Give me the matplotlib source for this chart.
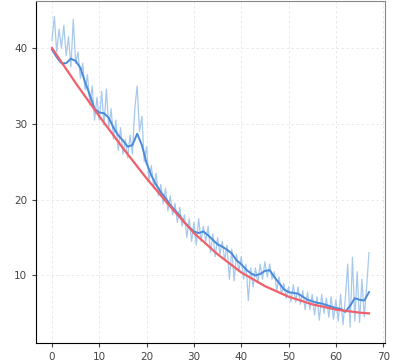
import numpy as np
import matplotlib.pyplot as plt

# datos crudos (paso 0.5)
x_raw = np.arange(0, 67.01, 0.5)
y_raw = [41.0, 44.2, 39.5, 42.5, 40.0, 43.0, 39.0, 41.5, 37.5, 43.8,
         38.0, 39.5, 36.0, 38.0, 34.5, 36.5, 32.5, 35.0, 30.5, 33.5,
         30.5, 34.3, 29.8, 34.6, 29.5, 32.0, 28.0, 30.5, 26.5, 29.5,
         26.0, 28.0, 25.5, 28.5, 26.0, 32.0, 35.0, 29.0, 31.0, 25.0,
         27.0, 22.5, 24.5, 21.5, 23.5, 20.5, 22.0, 19.5, 21.5, 18.5,
         20.5, 18.0, 19.5, 17.0, 19.0, 16.5, 18.0, 15.0, 17.5, 14.5,
         17.0, 14.0, 17.5, 14.5, 16.5, 14.5, 16.5, 13.0, 15.5, 12.5,
         15.0, 12.8, 14.5, 12.0, 14.0, 9.5, 13.5, 9.3, 12.8, 10.5,
         12.5, 9.5, 11.5, 6.7, 11.0, 8.5, 11.0, 9.0, 11.5, 9.5,
         11.8, 9.8, 11.5, 9.5, 10.5, 8.0, 9.8, 7.5, 9.0, 7.0,
         8.5, 6.5, 8.8, 6.5, 8.5, 6.2, 8.0, 5.5, 7.8, 5.5,
         7.5, 4.8, 7.2, 4.1, 7.5, 5.0, 7.0, 4.5, 7.2, 4.2,
         6.8, 4.0, 7.5, 3.5, 7.0, 11.5, 3.2, 12.4, 4.0, 10.5,
         3.8, 9.5, 4.5, 8.5, 13.0]

# media movil
x_suave = np.arange(0, 68)
y_suave = [39.8, 38.8, 38.0, 38.0, 38.6, 38.3, 37.4, 35.5, 33.8, 32.0,
           31.5, 31.4, 30.8, 29.5, 28.5, 27.8, 27.0, 27.2, 28.7, 27.2,
           24.8, 23.2, 22.0, 21.0, 20.2, 19.3, 18.6, 17.9, 17.0, 16.4,
           15.8, 15.6, 15.8, 15.3, 14.7, 14.1, 13.8, 13.4, 12.9, 12.0,
           11.5, 10.8, 10.3, 10.0, 10.2, 10.6, 10.7, 9.8, 9.0, 8.2,
           7.8, 7.7, 7.6, 7.2, 6.8, 6.6, 6.4, 6.3, 6.1, 5.9,
           5.7, 5.6, 5.2, 6.0, 7.0, 6.8, 6.7, 7.8]

# ajuste
x_ajuste = [0, 5, 10, 15, 20, 25, 30, 35, 40, 45, 50, 55, 60, 65, 67]
y_ajuste = [40.0, 35.4, 31.0, 26.8, 22.8, 19.1, 15.6, 12.8, 10.4, 8.6,
            7.2, 6.2, 5.5, 5.1, 5.0]

fig = plt.figure(figsize=(3.97, 3.61), dpi=100)
ax = fig.add_axes([0.091, 0.05, 0.879, 0.947])

ax.plot(x_raw, y_raw, color="#9cc3ec", lw=0.9, alpha=0.9)
ax.plot(x_suave, y_suave, color="#4a8ad8", lw=1.4)
ax.plot(x_ajuste, y_ajuste, color="#f0606a", lw=1.6)

ax.set_xlim(-3.35, 70.4)
ax.set_ylim(1.1, 46.2)
ax.set_xticks(range(0, 71, 10))
ax.set_yticks([10, 20, 30, 40])
ax.grid(color="#e4e4e4", lw=0.6, ls=(0, (3, 3)))
ax.tick_params(labelsize=7.5, colors="#444444", length=3)
for s in ["top", "right"]:
    ax.spines[s].set_color("#888888")

fig.savefig("out.png", dpi=100)
